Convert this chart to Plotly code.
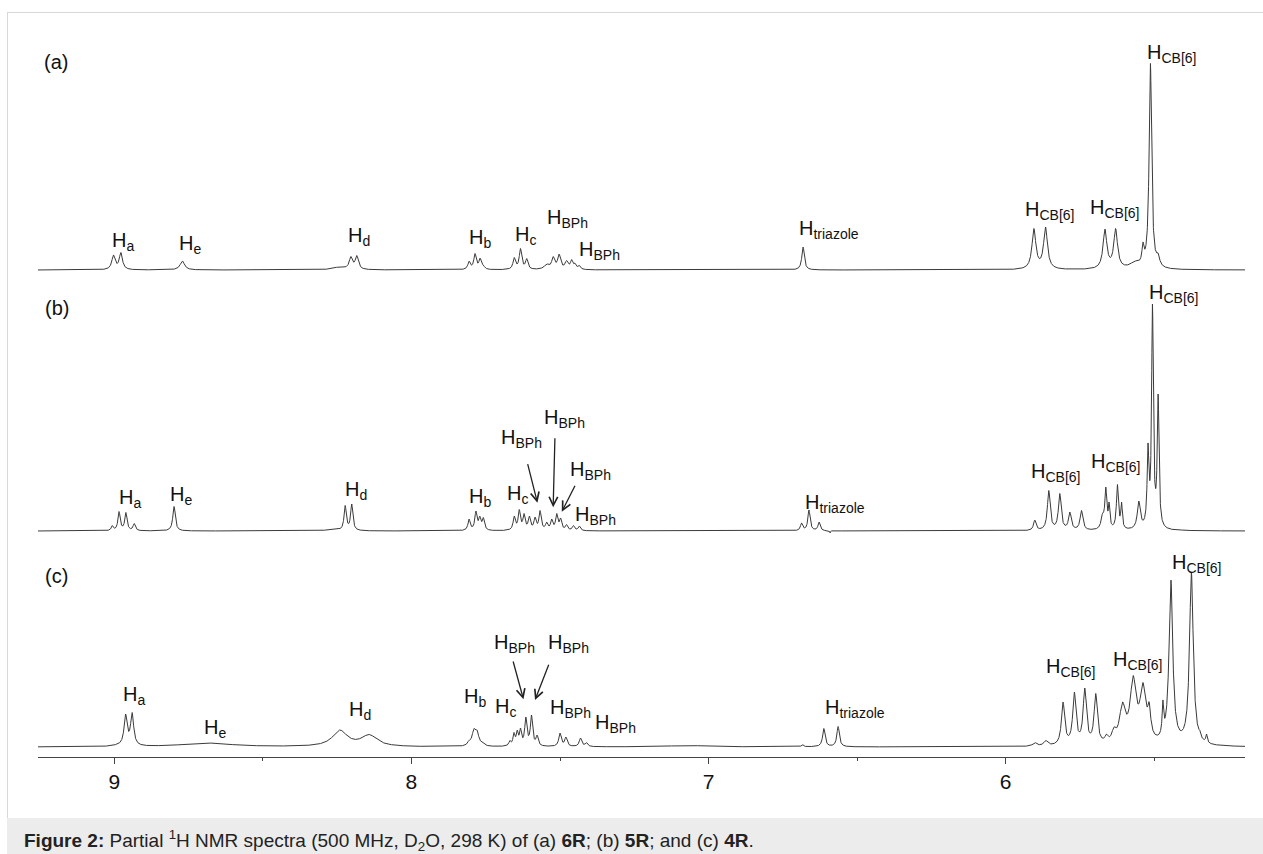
import numpy as np
import plotly.graph_objects as go

# ---------------- data ----------------
# peak centres (ppm), apex heights (px above the trace baseline), half widths at half height (ppm)
A_PPM = [9.003, 8.978, 8.771, 8.245, 8.204, 8.184,
         7.806, 7.786, 7.769, 7.758, 7.654, 7.633, 7.612,
         7.545, 7.523, 7.503, 7.478, 7.461, 7.450, 7.436, 6.682,
         5.905, 5.866, 5.666, 5.630, 5.565, 5.538, 5.513, 5.487]
A_HEIGHT = [15, 17.5, 9, 3, 13.5, 14.5,
            9, 16.5, 12, 5, 12.5, 21.5, 11.5,
            6, 13.5, 16, 9.5, 10.5, 7, 5, 23,
            41.5, 43, 41, 41.5, 9, 28, 206.7, 17]
A_WIDTH = [0.0065, 0.0065, 0.009, 0.025, 0.0065, 0.0065,
           0.005, 0.005, 0.005, 0.005, 0.005, 0.005, 0.005,
           0.01, 0.006, 0.006, 0.006, 0.005, 0.004, 0.005, 0.005,
           0.0078, 0.0078, 0.0076, 0.0076, 0.02, 0.004, 0.005, 0.006]

B_PPM = [9.007, 8.984, 8.961, 8.933, 8.799, 8.27, 8.223, 8.201,
         7.806, 7.783, 7.770, 7.758,
         7.654, 7.637, 7.621, 7.603, 7.584, 7.567, 7.545, 7.528, 7.511, 7.498,
         7.478, 7.455, 7.435, 6.687, 6.662, 6.628, 6.591,
         5.902, 5.855, 5.818, 5.784, 5.745,
         5.674, 5.663, 5.652, 5.624, 5.610, 5.552, 5.521, 5.506, 5.487, 5.40]
B_HEIGHT = [5.5, 19.5, 18.5, 7.5, 24.5, 1.5, 25.5, 27,
            12, 20, 15, 13.5,
            15, 21.5, 17.5, 15, 14, 20.5, 9, 12, 17.5, 13,
            6.5, 5.5, 5, 8, 21, 9, -2,
            11, 40.5, 37.5, 19, 20.5,
            18, 44, 29, 46.5, 29, 30, 88, 227, 137, 1]
B_WIDTH = [0.004, 0.0045, 0.0045, 0.0045, 0.005, 0.025, 0.0045, 0.0045,
           0.0045, 0.0045, 0.0045, 0.0045,
           0.0045, 0.0045, 0.0045, 0.0045, 0.0045, 0.0045, 0.0045, 0.0045, 0.0045, 0.0045,
           0.0045, 0.0045, 0.0045, 0.0045, 0.0045, 0.0045, 0.0012,
           0.005, 0.0055, 0.0055, 0.0055, 0.0055,
           0.006, 0.004, 0.003, 0.004, 0.003, 0.006, 0.0035, 0.0035, 0.0035, 0.012]

C_PPM = [8.99, 8.962, 8.940, 8.689, 8.241, 8.142,
         7.806, 7.790, 7.779, 7.761,
         7.669, 7.655, 7.644, 7.633, 7.615, 7.596, 7.577,
         7.500, 7.480, 7.431, 7.411, 7.07, 6.684, 6.612, 6.564,
         5.902, 5.865, 5.807, 5.769, 5.734, 5.697,
         5.661, 5.636, 5.607, 5.571, 5.538, 5.517,
         5.471, 5.444, 5.375, 5.347, 5.324]
C_HEIGHT = [3, 33, 34.5, 4, 17, 12.5,
            7, 18.5, 17, 5.5,
            6.5, 14.5, 17, 19, 30, 32, 12,
            14, 10, 9, 4.5, 1.5, 2.5, 18.5, 20.5,
            4.5, 6.5, 45, 55, 59, 53.5,
            13, 20, 45, 71.5, 64.5, 45,
            47, 167, 174, 17, 13]
C_WIDTH = [0.02, 0.0062, 0.0062, 0.1, 0.03, 0.032,
           0.006, 0.007, 0.007, 0.006,
           0.004, 0.004, 0.004, 0.004, 0.0045, 0.0045, 0.0045,
           0.005, 0.005, 0.005, 0.005, 0.08, 0.004, 0.005, 0.005,
           0.008, 0.008, 0.0065, 0.0065, 0.0065, 0.0065,
           0.006, 0.008, 0.012, 0.012, 0.012, 0.006,
           0.003, 0.0075, 0.0075, 0.003, 0.003]

PANEL_NAMES = ["(a)", "(b)", "(c)"]
TICK_VALUES = [9, 8, 7, 6]
TICK_LABELS = ["9", "8", "7", "6"]

A_LABELS = ["H<sub>a</sub>", "H<sub>e</sub>", "H<sub>d</sub>", "H<sub>b</sub>", "H<sub>c</sub>",
            "H<sub>BPh</sub>", "H<sub>BPh</sub>", "H<sub>triazole</sub>",
            "H<sub>CB[6]</sub>", "H<sub>CB[6]</sub>", "H<sub>CB[6]</sub>"]
B_LABELS = ["H<sub>a</sub>", "H<sub>e</sub>", "H<sub>d</sub>", "H<sub>b</sub>", "H<sub>c</sub>",
            "H<sub>BPh</sub>", "H<sub>BPh</sub>", "H<sub>BPh</sub>", "H<sub>BPh</sub>",
            "H<sub>triazole</sub>", "H<sub>CB[6]</sub>", "H<sub>CB[6]</sub>", "H<sub>CB[6]</sub>"]
C_LABELS = ["H<sub>a</sub>", "H<sub>e</sub>", "H<sub>d</sub>", "H<sub>b</sub>", "H<sub>c</sub>",
            "H<sub>BPh</sub>", "H<sub>BPh</sub>", "H<sub>BPh</sub>", "H<sub>BPh</sub>",
            "H<sub>triazole</sub>", "H<sub>CB[6]</sub>", "H<sub>CB[6]</sub>", "H<sub>CB[6]</sub>"]

CAPTION = ("<b>Figure 2:</b> Partial <sup>1</sup>H NMR spectra (500 MHz, D<sub>2</sub>O, 298 K) "
           "of (a) <b>6R</b>; (b) <b>5R</b>; and (c) <b>4R</b>.")

# ---------------- layout (positions / styles) ----------------
W, H = 1263, 854
ML, MR, MT, MB = 38, 18, 20, 97
PLOT_H = H - MT - MB
X_RANGE = [9.2568, 5.1946]
BASELINES = [487, 226, 10]          # trace baselines in plot units (px above axis)
LINE_COLOR = "#3a3a3a"
FONT = "Liberation Sans, Arial, Helvetica, sans-serif"
LABEL_DY = -3

# label anchor positions (left edge ppm, vertical centre in plot units)
A_POS = [(9.0145, 518.3), (8.789, 515.3), (8.2203, 523.7), (7.8131, 522), (7.6583, 525),
         (7.5506, 542), (7.4429, 510), (6.7024, 530.5), (5.9418, 549.5), (5.7231, 551.5), (5.5312, 706.5)]
B_POS = [(8.9909, 261.5), (8.8193, 264.5), (8.2304, 270), (7.8131, 262.5), (7.6852, 265.5),
         (7.7054, 321.5), (7.5607, 341.5), (7.4732, 289.5), (7.4564, 244.5),
         (6.6822, 256.5), (5.9216, 287.5), (5.7197, 297.5), (5.5245, 466.5)]
C_POS = [(8.9775, 64.5), (8.7049, 31.5), (8.217, 49.5), (7.8299, 62.5), (7.7256, 52.5),
         (7.7289, 116.5), (7.5472, 116.5), (7.5405, 51.5), (7.3891, 36.5),
         (6.6149, 51.5), (5.8711, 92.5), (5.6456, 99.5), (5.447, 196.5)]
PANEL_POS = [(9.2447, 695.3), (9.2413, 449.5), (9.2413, 181)]
# arrows: (tail ppm, tail y, head ppm, head y)
ARROWS = [(7.610, 294.3, 7.576, 254.3), (7.517, 320.3, 7.523, 249.7), (7.447, 272.7, 7.494, 245.3),
          (7.659, 97.0, 7.623, 57.7), (7.536, 93.7, 7.584, 57.0)]


def lorentz(x, c, w):
    return w ** 2 / ((x - c) ** 2 + w ** 2)


def spectrum(ppm, height, width, grid):
    c = np.asarray(ppm, float)
    h = np.asarray(height, float)
    w = np.asarray(width, float)
    M = lorentz(c[:, None], c[None, :], w[None, :])
    amp = h.copy()
    for _ in range(400):
        amp = amp + 0.5 * (h - M @ amp)
        amp = np.where(h > 0, np.maximum(amp, 0), amp)
    return (amp[None, :] * lorentz(grid[:, None], c[None, :], w[None, :])).sum(axis=1)


grid = np.linspace(X_RANGE[0], X_RANGE[1], 9000)
fig = go.Figure()
for (pp, hh, ww), base in zip([(A_PPM, A_HEIGHT, A_WIDTH), (B_PPM, B_HEIGHT, B_WIDTH),
                                (C_PPM, C_HEIGHT, C_WIDTH)], BASELINES):
    y = spectrum(pp, hh, ww, grid) + base
    fig.add_trace(go.Scatter(x=grid, y=y, mode="lines", line=dict(color=LINE_COLOR, width=1),
                             hoverinfo="skip", showlegend=False))

ann = []
for labels, pos in [(A_LABELS, A_POS), (B_LABELS, B_POS), (C_LABELS, C_POS)]:
    for t, (xp, yp) in zip(labels, pos):
        ann.append(dict(x=xp, y=yp + LABEL_DY, xref="x", yref="y", text=t, showarrow=False,
                        xanchor="left", yanchor="middle", font=dict(size=20, color="#111", family=FONT)))
for t, (xp, yp) in zip(PANEL_NAMES, PANEL_POS):
    ann.append(dict(x=xp, y=yp, xref="x", yref="y", text=t, showarrow=False,
                    xanchor="left", yanchor="middle", font=dict(size=20, color="#111", family=FONT)))
for tx, ty, hx, hy in ARROWS:
    ann.append(dict(x=hx, y=hy, ax=tx, ay=ty, xref="x", yref="y", axref="x", ayref="y", text="",
                    showarrow=True, arrowhead=5, arrowsize=1.3, arrowwidth=1.3, arrowcolor="#222",
                    standoff=0, startstandoff=0))
ann.append(dict(x=5.2922, y=-20.5, xref="x", yref="y", text="ppm", showarrow=False,
                xanchor="center", yanchor="middle", font=dict(size=21, color="#111", family=FONT)))


def px2paper_x(px):
    return (px - ML) / (W - ML - MR)


def px2paper_y(py):
    return (H - MB - py) / PLOT_H


ann.append(dict(x=px2paper_x(22), y=px2paper_y(840), xref="paper", yref="paper", text=CAPTION,
                showarrow=False, xanchor="left", yanchor="middle",
                font=dict(size=19, color="#222", family=FONT)))

shapes = [
    dict(type="rect", xref="paper", yref="paper", x0=px2paper_x(7), x1=px2paper_x(1300),
         y0=px2paper_y(818), y1=px2paper_y(900), fillcolor="#ececec", line=dict(width=0), layer="below"),
    dict(type="line", xref="paper", yref="paper", x0=px2paper_x(7.5), x1=px2paper_x(7.5),
         y0=px2paper_y(818), y1=px2paper_y(12), line=dict(color="#d8d8d8", width=1)),
    dict(type="line", xref="paper", yref="paper", x0=px2paper_x(7.5), x1=px2paper_x(1300),
         y0=px2paper_y(12.5), y1=px2paper_y(12.5), line=dict(color="#d8d8d8", width=1)),
]

fig.update_layout(
    width=W, height=H, margin=dict(l=ML, r=MR, t=MT, b=MB, pad=0),
    paper_bgcolor="white", plot_bgcolor="white",
    annotations=ann, shapes=shapes, showlegend=False,
    xaxis=dict(range=X_RANGE, tickmode="array", tickvals=TICK_VALUES, ticktext=TICK_LABELS,
               ticks="outside", ticklen=6, tickwidth=1, tickcolor="#444",
               showline=True, linecolor="#444", linewidth=1, showgrid=False, zeroline=False,
               tickfont=dict(size=21, color="#111", family=FONT),
               minor=dict(tickvals=[8.5, 7.5, 6.5, 5.5], ticks="outside", ticklen=3,
                          tickcolor="#444", showgrid=False),
               fixedrange=True),
    yaxis=dict(range=[0, PLOT_H], visible=False, fixedrange=True),
)

fig.write_html("out.html")
